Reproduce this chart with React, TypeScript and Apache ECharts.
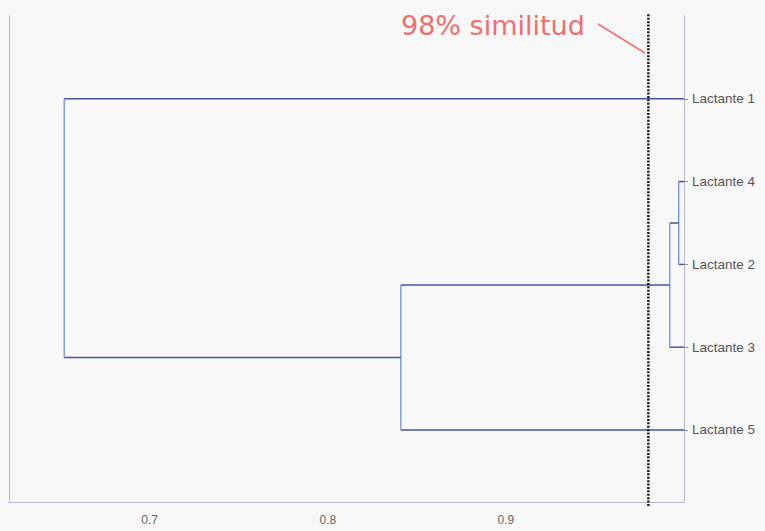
import React, { useEffect, useRef } from "react";
import * as echarts from "echarts";

// Leaves in display order (top to bottom)
const leaves = ["Lactante 1", "Lactante 4", "Lactante 2", "Lactante 3", "Lactante 5"];
// Merges: children indices (0-4 leaves, 5+ earlier merges) and similarity level
const mergeA = [1, 5, 6, 0];
const mergeB = [2, 3, 4, 7];
const mergeHeight = [0.997, 0.992, 0.841, 0.652];
const leafLevel = 1.0;
const cutoff = 0.98;
const xTickValues = [0.7, 0.8, 0.9];
const cutoffLabel = "98% similitud";

function buildSegments() {
  const nx: number[] = leaves.map(() => leafLevel);
  const ny: number[] = leaves.map((_, i) => i);
  const segs: number[][] = [];
  mergeHeight.forEach((h, k) => {
    const a = mergeA[k];
    const b = mergeB[k];
    segs.push([nx[a], ny[a], h, ny[a], 0]);
    segs.push([nx[b], ny[b], h, ny[b], 0]);
    segs.push([h, ny[a], h, ny[b], 1]);
    nx.push(h);
    ny.push((ny[a] + ny[b]) / 2);
  });
  return segs;
}

export default function App() {
  const ref = useRef<HTMLDivElement>(null);
  useEffect(() => {
    if (!ref.current) return;
    const chart = echarts.init(ref.current, null, { renderer: "svg" });
    const segs = buildSegments();
    const axisColor = "#b9b9d3";
    chart.setOption({
      animation: false,
      backgroundColor: "#f8f8f8",
      grid: { left: 9, right: 81, top: 16, bottom: 29, containLabel: false },
      xAxis: {
        type: "value",
        min: 0.621,
        max: 1.0,
        axisLine: { show: true, onZero: false, lineStyle: { color: axisColor, width: 1 } },
        axisTick: { show: false },
        splitLine: { show: false },
        axisLabel: {
          customValues: xTickValues,
          formatter: (v: number) => v.toFixed(1),
          color: "#666",
          fontSize: 12,
          fontFamily: "Liberation Sans",
          margin: 12,
        },
      },
      yAxis: [
        {
          type: "value",
          inverse: true,
          min: -1,
          max: 4.87,
          position: "left",
          axisLine: { show: true, onZero: false, lineStyle: { color: axisColor, width: 1 } },
          axisTick: { show: false },
          axisLabel: { show: false },
          splitLine: { show: false },
        },
        {
          type: "value",
          inverse: true,
          min: -1,
          max: 4.87,
          position: "right",
          axisLine: { show: true, onZero: false, lineStyle: { color: axisColor, width: 1 } },
          axisTick: {
            show: true,
            customValues: leaves.map((_, i) => i),
            length: 4,
            lineStyle: { color: "#7d8cc8", width: 1 },
          },
          axisLabel: {
            customValues: leaves.map((_, i) => i),
            formatter: (v: number) => leaves[Math.round(v)] ?? "",
            color: "#555",
            fontSize: 13.5,
            fontFamily: "Liberation Sans",
            margin: 8,
          },
          splitLine: { show: false },
        },
      ],
      series: [
        {
          type: "custom",
          coordinateSystem: "cartesian2d",
          clip: false,
          data: segs,
          dimensions: ["x1", "y1", "x2", "y2", "kind"],
          encode: { x: [0, 2], y: [1, 3] },
          renderItem: (params: any, api: any) => {
            const p1 = api.coord([api.value(0), api.value(1)]);
            const p2 = api.coord([api.value(2), api.value(3)]);
            const vertical = api.value(4) === 1;
            return {
              type: "line",
              shape: { x1: p1[0], y1: p1[1], x2: p2[0], y2: p2[1] },
              style: {
                stroke: vertical ? "#7090e6" : "#44539e",
                lineWidth: vertical ? 1.3 : 1.5,
              },
            };
          },
        },
        {
          type: "line",
          data: [
            [cutoff, -1.02],
            [cutoff, 4.93],
          ],
          symbol: "none",
          clip: false,
          lineStyle: { color: "#1a1a1a", width: 2.5, type: [2, 1.4], cap: "butt" },
          silent: true,
        },
      ],
      graphic: [
        {
          type: "text",
          left: 401,
          top: 12,
          style: {
            text: cutoffLabel,
            fill: "#f26d6d",
            font: "27px 'DejaVu Sans'",
          },
        },
        {
          type: "line",
          shape: { x1: 598, y1: 24, x2: 645, y2: 53 },
          style: { stroke: "#f07070", lineWidth: 1.6 },
        },
      ],
    });
    return () => chart.dispose();
  }, []);
  return (
    <div
      ref={ref}
      style={{ position: "absolute", left: 0, top: 0, width: 765, height: 531 }}
    />
  );
}
